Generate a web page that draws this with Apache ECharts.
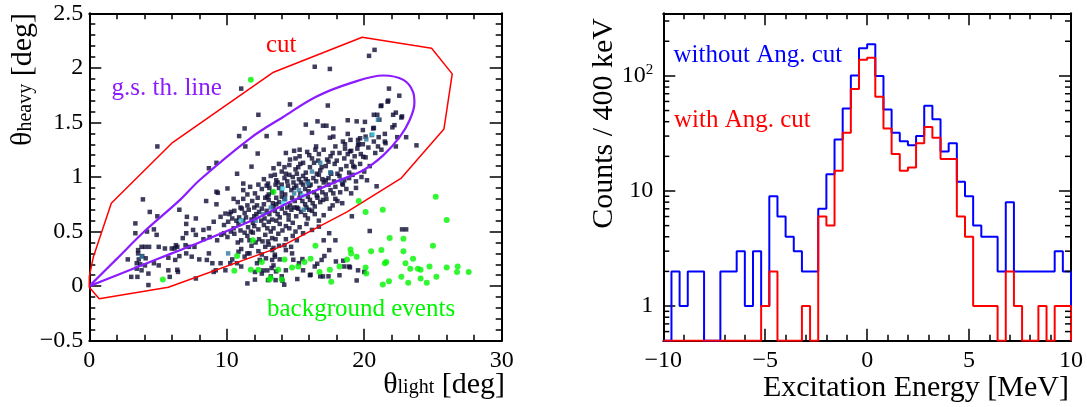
<!DOCTYPE html>
<html><head><meta charset="utf-8">
<script src="https://cdn.jsdelivr.net/npm/echarts@6/dist/echarts.min.js"></script>
<style>html,body{margin:0;padding:0;background:#fff}#c{width:1087px;height:407px}</style>
</head><body><div id="c"></div>
<script>
// ---------------- DATA ----------------
// Left panel: theta_light vs theta_heavy (deg)
const leftXTicks = [0, 10, 20, 30];
const leftYTicks = [-0.5, 0, 0.5, 1, 1.5, 2, 2.5];

// 2D-histogram cells with 1 count
const singleHits = [
[20.75,2.165],[20.35,2.11],[16.4,2.01],[17.5,1.99],[11.05,1.81],[21.8,1.81],[22.55,1.745],[21.75,1.70],[21.25,1.655],[14.6,1.665],[17.35,1.655],[12.3,1.57],[20.7,1.57],[20.95,1.57],[22.1,1.57],[22.75,1.555],[18.8,1.52],[16.6,1.51],[15.75,1.48],[17.0,1.47],[17.25,1.47],[17.75,1.445],[19.9,1.43],[20.7,1.45],[22.05,1.455],[20.1,1.37],[20.55,1.385],[21.05,1.365],[21.5,1.395],[22.4,1.365],[23.05,1.365],[23.8,1.29],[12.9,1.375],[10.9,1.375],[11.3,1.445],[16.2,1.405],[17.75,1.37],[18.8,1.395],[18.45,1.325],[19.55,1.34],[4.95,1.28],[11.35,1.28],[12.25,1.215],[22.3,1.28],[21.55,1.31],[21.0,1.28],[20.7,1.325],
[21.7,1.69],[21.2,1.65],[22.3,1.59],[22.7,1.545],[21.1,1.525],[22.2,1.475],[20.05,1.505],[20.65,1.445],[21.5,1.325],[21.25,1.25],[19.7,1.355],[19.55,1.295],[18.96,1.235],[19.93,1.185],[19.2,1.10],[19.45,1.51],[17.5,1.36],[16.5,1.28],[15.3,1.25],[13.87,1.4],[19.6,1.3],[20.3,1.27],[18.6,1.3],[19.0,1.34],[17.9,1.28],[20.8,1.22],
[8.7,1.08],[9.25,1.13],[10.75,1.03],[11.8,1.095],[10.05,0.895],[11.2,0.94],[3.9,0.795],[4.4,0.68],[4.95,0.64],[6.55,0.70],[7.1,0.635],[7.75,0.62],[8.5,0.78],[9.25,0.865],[9.35,0.855],[9.25,0.75],[8.7,0.53],[7.55,0.515],[7.05,0.57],[6.8,0.44],[7.0,0.375],[6.4,0.36],[6.2,0.345],[6.55,0.275],[6.25,0.24],[5.75,0.26],[5.5,0.345],[5.05,0.36],[4.9,0.47],[4.7,0.52],[4.2,0.50],[3.35,0.575],[3.35,0.485],[3.55,0.33],[3.8,0.36],[4.05,0.36],[4.35,0.36],[3.55,0.30],[3.85,0.275],[4.1,0.255],[3.6,0.245],[3.45,0.21],[3.7,0.20],[4.05,0.19],[4.7,0.21],[5.05,0.19],[4.3,0.115],[3.8,0.145],[3.45,0.16],[3.05,0.085],[3.5,0.085],[4.3,0.01],[2.8,0.245],[5.75,0.145],[5.85,0.085],[6.4,0.15],[6.45,0.13],[7.75,0.07],[8.0,0.245],[7.45,0.27],[7.25,0.36],[7.65,0.36],[8.55,0.24],[8.7,0.30],[8.95,0.21],[9.2,0.145],[9.55,0.21],[9.9,0.145],[10.25,0.21],[9.05,0.13],[8.3,0.43],[8.75,0.45],[9.3,0.42],[9.8,0.485],[8.3,0.515],[9.05,0.59],[9.55,0.635],[9.9,0.665],[7.75,0.47],[7.05,0.485],[6.3,0.375],[6.0,0.345],[7.05,0.30],
[11.5,0.025],[12.05,0.06],[13.0,0.055],[13.55,0.055],[14.0,0.09],[12.2,0.21],[12.4,0.24],[12.85,0.255],[13.3,0.24],[13.5,0.27],[13.4,0.19],[13.85,0.245],[12.05,0.13],[12.55,0.115],[11.65,0.30],[11.3,0.27],[10.85,0.315],[10.4,0.245],[10.75,0.21],[11.05,0.18],[14.2,0.375],[14.68,0.36],[15.1,0.42],[15.55,0.485],[16.2,0.515],[16.7,0.545],[17.45,0.485],[17.9,0.42],[17.05,0.42],[17.45,0.33],[16.9,0.24],[16.4,0.18],[16.05,0.10],[16.8,0.09],[17.4,0.09],[18.2,0.10],[18.55,0.18],[18.9,0.18],[19.55,0.145],[20.0,0.13],[19.1,0.64],[20.4,0.505],[22.75,0.52],[23.05,0.52],[14.75,0.30],[15.25,0.21],[15.55,0.145],[14.3,0.145],[12.65,0.144],[12.95,0.144],[13.26,0.166],[13.2,0.089],[13.58,0.135],[14.18,0.013],[14.05,0.05],[15.13,0.065],[16.1,0.105],[16.58,0.205],[17.0,0.089],[17.1,0.276],[17.94,0.226],[18.47,0.233],[18.96,0.172],[19.45,0.052],[14.84,0.242],[15.5,0.248],[13.5,0.288],[13.4,0.35],[20.9,0.915],
[14.3,1.22],[14.9,1.24],[15.3,1.19],[15.85,1.23],[16.2,1.17],[16.7,1.21],[17.05,1.25],[17.55,1.19],[18.2,1.22],[18.55,1.17],[19.05,1.24],[19.3,1.19],[19.75,1.21],[15.0,1.17],[16.45,1.25],[17.3,1.16],[18.8,1.21],[14.6,1.16],[19.5,1.26],[20.1,1.18],
[13.4,1.08],[14.0,1.05],[14.55,1.11],[15.0,1.07],[15.35,1.12],[15.75,1.04],[16.05,1.09],[16.35,1.13],[16.8,1.06],[17.2,1.1],[17.55,1.04],[17.85,1.12],[18.3,1.07],[18.7,1.1],[18.9,1.04],[19.3,1.09],[19.7,1.12],[13.8,1.12],[14.3,1.03],[15.55,1.13],[16.55,1.03],[17.4,1.14],[18.05,1.03],[19.1,1.14],[20.0,1.05],[20.4,1.1],
[12.7,0.98],[13.2,1.01],[13.7,0.95],[14.2,0.99],[14.55,1.02],[14.85,0.95],[15.25,0.98],[15.55,1.01],[15.9,0.96],[16.3,0.99],[16.7,1.02],[17.05,0.95],[17.4,0.99],[17.8,0.96],[18.2,1.01],[18.55,0.97],[18.9,0.99],[19.4,0.96],[19.8,1.0],[13.0,0.94],[13.5,1.02],[14.0,0.93],[15.1,1.03],[16.1,0.93],[16.95,0.98],[17.6,1.03],[18.4,0.94],[19.15,1.02],[20.2,0.97],
[11.2,0.88],[11.7,0.91],[12.05,0.85],[12.55,0.89],[12.9,0.92],[13.3,0.86],[13.8,0.9],[14.25,0.84],[14.7,0.88],[15.05,0.92],[15.35,0.85],[15.7,0.89],[16.0,0.92],[16.35,0.86],[16.75,0.9],[17.2,0.84],[17.55,0.88],[17.9,0.91],[18.25,0.86],[18.7,0.89],[19.05,0.85],[11.5,0.84],[12.3,0.93],[13.05,0.84],[13.55,0.93],[14.45,0.92],[15.55,0.93],[16.55,0.83],[17.4,0.93],[18.45,0.93],[19.4,0.9],
[10.8,0.77],[11.2,0.8],[11.5,0.74],[11.85,0.78],[12.25,0.81],[12.7,0.75],[13.05,0.79],[13.4,0.73],[13.8,0.77],[14.2,0.8],[14.6,0.74],[14.95,0.78],[15.3,0.81],[15.7,0.75],[16.05,0.79],[16.4,0.73],[16.8,0.77],[17.25,0.8],[17.7,0.74],[18.05,0.78],[11.0,0.72],[12.0,0.72],[12.95,0.82],[13.6,0.81],[14.4,0.72],[15.1,0.72],[15.9,0.82],[16.6,0.81],[17.5,0.71],[18.4,0.76],[10.5,0.8],
[10.2,0.66],[10.55,0.69],[10.9,0.63],[11.3,0.67],[11.6,0.7],[12.0,0.64],[12.35,0.68],[12.75,0.62],[13.1,0.66],[13.5,0.69],[13.85,0.63],[14.25,0.67],[14.7,0.7],[15.05,0.64],[15.4,0.68],[15.9,0.62],[16.4,0.66],[17.05,0.65],[10.4,0.62],[11.1,0.71],[11.8,0.61],[12.55,0.71],[13.3,0.61],[14.0,0.71],[14.5,0.61],[15.2,0.71],[16.0,0.7],[16.7,0.6],
[9.8,0.56],[10.1,0.59],[10.5,0.53],[10.85,0.57],[11.2,0.6],[11.55,0.54],[11.9,0.58],[12.3,0.52],[12.7,0.56],[13.05,0.59],[13.4,0.53],[13.85,0.57],[14.3,0.55],[14.8,0.58],[15.3,0.54],[15.8,0.57],[10.3,0.5],[11.0,0.51],[11.75,0.5],[12.5,0.6],[13.2,0.5],[14.05,0.51],[15.0,0.5],
[10.05,0.45],[10.55,0.48],[11.05,0.42],[11.5,0.46],[11.9,0.49],[12.35,0.43],[12.8,0.47],[13.3,0.44],[13.75,0.48],[14.3,0.43],[14.8,0.46],[10.8,0.4],[12.1,0.4],[13.0,0.41],[9.6,0.47],[11.3,0.49],
[11.05,0.34],[11.8,0.37],[12.3,0.32],[12.8,0.36],[13.3,0.33],[13.8,0.37],[14.3,0.33],[11.5,0.3],[12.55,0.29],[13.05,0.38],
[13.6,0.97],[14.4,0.96],[15.4,0.95],[16.5,0.96],[17.2,0.97],[14.8,1.0],[15.75,0.98],[16.9,1.09],[15.2,1.09],[14.2,1.09],[13.1,0.9],[14.0,0.86],[14.9,0.9],[15.95,0.87],[16.95,0.86],[17.75,0.85],[12.8,0.81],[13.35,0.76],[14.0,0.82],[14.75,0.81],[15.5,0.78],[16.25,0.76],[17.0,0.79],[17.9,0.8],[12.2,0.74],[13.6,0.75],[14.9,0.72],[15.8,0.72],[16.2,0.69],[15.7,0.65],[14.5,0.65],[13.7,0.66],[12.9,0.69],[12.15,0.66],[11.4,0.63],[12.0,0.55],[12.95,0.53],[13.6,0.6],[14.55,0.53],[11.65,0.42],[12.6,0.41],[13.55,0.43],[10.3,0.68],[10.7,0.6],[16.0,1.2],[17.7,1.22],[18.0,1.15],[16.65,1.15],[18.6,1.26],[19.9,1.3]
];
// cells with 2 counts
const doubleHits = [[21.0,1.525],[20.15,1.345],[15.25,0.88],[14.25,0.795],[14.9,0.85],[12.65,0.66],[12.1,0.6],[16.2,1.05],[17.55,1.04],[15.9,0.94],[16.8,1.13],[13.2,0.72],[3.8,0.27],[10.1,0.3],[18.3,0.97],[15.6,0.7]];
// cells with 3 counts
const tripleHits = [[20.6,1.39],[14.05,0.895],[15.5,0.83],[11.05,0.6],[14.1,0.76]];
// background events (outside the cut)
const backgroundEvents = [[11.75,1.89],[13.4,0.865],[11.9,0.42],[10.75,0.275],[10.55,0.14],[5.35,0.06],[19.6,0.78],[20.1,0.68],[21.35,0.70],[25.2,0.82],[26.0,0.605],[21.85,0.44],[22.85,0.435],[25.0,0.37],[16.45,0.37],[19.0,0.335],[19.05,0.30],[19.45,0.27],[20.5,0.32],[21.25,0.33],[22.85,0.32],[23.55,0.25],[21.6,0.22],[21.5,0.21],[23.0,0.21],[23.35,0.16],[23.9,0.16],[24.1,0.15],[24.75,0.18],[26.0,0.17],[26.8,0.18],[26.75,0.13],[27.6,0.13],[25.25,0.085],[24.55,0.03],[24.1,0.07],[23.2,0.03],[22.7,0.085],[21.8,0.045],[21.35,0.015],[20.1,0.17],[20.15,0.115],[18.75,0.245],[18.2,0.18],[17.6,0.04],[17.5,0.15],[16.75,0.13],[16.1,0.25],[15.65,0.22],[15.2,0.18],[14.75,0.17],[14.2,0.245],[13.75,0.15],[13.1,0.06],[13.2,0.075],[14.0,0.06],[12.55,0.22],[12.3,0.15],[11.75,0.15]];
// graphical cut polygon
const cutPolygon = [[0,0.09],[0.3,0.27],[1.6,0.76],[6.0,1.31],[13.4,1.96],[19.85,2.28],[24.9,2.18],[26.4,1.945],[25.8,1.44],[22.7,0.99],[18.75,0.68],[13.9,0.36],[5.75,-0.01],[0.72,-0.115],[0,-0.01],[0,0.09]];
// ground-state theoretical kinematic line
const gsLine = [[0,0],[2,0.1],[4,0.2],[6,0.3],[8,0.4],[10,0.505],[12,0.61],[14,0.735],[16,0.85],[18,0.96],[19.9,1.06],[21.4,1.2],[22.6,1.37],[23.3,1.52],[23.65,1.675],[23.55,1.78],[22.85,1.89],[21.4,1.93],[19,1.86],[16.5,1.735],[14.1,1.55],[11.7,1.355],[8.05,0.975],[6.6,0.79],[4,0.5],[2,0.25],[0,0]];

// Right panel: excitation energy histograms, 400 keV bins from -10 MeV
const binLow = -10, binWidth = 0.4;
const countsWithout = [0,2,1,2,2,0,0,2,2,3,1,3,1,9,6,4,3,2,2,7,14,28,52,101,174,188,100,51,32,27,25,30,55,42,22,26,12,9,5,4,4,2,8,2,2,2,2,2,3,2];
const countsWith    = [0,0,0,0,0,0,0,0,0,0,0,0,1,2,0,0,0,1,0,6,5,15,32,77,138,144,66,35,21,15,16,26,36,29,19,19,6,4,1,1,1,0,2,1,0,0,1,0,1,1];
const rightXTicks = [-10, -5, 0, 5, 10];
const logMin = 0.5, logMax = 350;
const logMinorTicks = [0.6,0.7,0.8,0.9,2,3,4,5,6,7,8,9,20,30,40,50,60,70,80,90,200,300];

// ---------------- CHART ----------------
const FONT = "'Liberation Serif','DejaVu Serif',serif";
const minus = v => String(v).replace('-', '\u2212');
function stepData(counts){
  const r = v => Math.round(v*1000)/1000;
  const d = [[binLow, logMin]];
  counts.forEach((c,i) => d.push([r(binLow + i*binWidth), Math.max(c, logMin)]));
  const end = r(binLow + counts.length*binWidth);
  d.push([end, Math.max(counts[counts.length-1], logMin)]);
  d.push([end, logMin]);
  return d;
}
const axLine = {show:true, onZero:false, lineStyle:{color:'#000', width:2}};
const tick = {show:true, inside:true, length:12, lineStyle:{color:'#000', width:1.5}};
const minor = {show:true, splitNumber:5, length:6, lineStyle:{color:'#000', width:1.5}};
const lab = {color:'#000', fontFamily:FONT, fontSize:24};

const chart = echarts.init(document.getElementById('c'), null, {renderer:'canvas'});
chart.setOption({
  animation:false,
  backgroundColor:'#fff',
  grid:[
    {left:89.3, top:13.3, width:412.4, height:327.4},
    {left:663.3, top:13.3, width:407.7, height:327.4}
  ],
  xAxis:[
    {gridIndex:0, type:'value', position:'bottom', min:leftXTicks[0], max:leftXTicks[leftXTicks.length-1], interval:10,
      axisLine:axLine, axisTick:tick, minorTick:minor, splitLine:{show:false},
      axisLabel:Object.assign({margin:8, formatter:minus}, lab)},
    {gridIndex:0, type:'value', position:'top', min:0, max:30, interval:10,
      axisLine:axLine, axisTick:tick, minorTick:minor, splitLine:{show:false}, axisLabel:{show:false}},
    {gridIndex:1, type:'value', position:'bottom', min:rightXTicks[0], max:rightXTicks[rightXTicks.length-1], interval:5,
      axisLine:axLine, axisTick:tick, minorTick:minor, splitLine:{show:false},
      axisLabel:Object.assign({margin:8, formatter:minus}, lab)},
    {gridIndex:1, type:'value', position:'top', min:-10, max:10, interval:5,
      axisLine:axLine, axisTick:tick, minorTick:minor, splitLine:{show:false}, axisLabel:{show:false}}
  ],
  yAxis:[
    {gridIndex:0, type:'value', position:'left', min:leftYTicks[0], max:leftYTicks[leftYTicks.length-1], interval:0.5,
      axisLine:axLine, axisTick:tick, minorTick:minor, splitLine:{show:false},
      axisLabel:Object.assign({margin:6, formatter:minus}, lab)},
    {gridIndex:0, type:'value', position:'right', min:-0.5, max:2.5, interval:0.5,
      axisLine:axLine, axisTick:tick, minorTick:minor, splitLine:{show:false}, axisLabel:{show:false}},
    {gridIndex:1, type:'log', logBase:10, position:'left', min:logMin, max:logMax,
      axisLine:axLine, axisTick:tick, minorTick:{show:false}, splitLine:{show:false},
      axisLabel:Object.assign({margin:10, showMinLabel:false, showMaxLabel:false,
        formatter:function(v){
          const e = Math.log10(v);
          if (Math.abs(e - Math.round(e)) > 1e-6) return '';
          if (Math.round(e) === 2) return '{b|10}{p|2}';
          return String(Math.round(v));
        },
        rich:{b:{fontFamily:FONT, fontSize:24, color:'#000'}, p:{fontFamily:FONT, fontSize:15, color:'#000', padding:[0,0,12,0]}}
      }, lab)},
    {gridIndex:1, type:'log', logBase:10, position:'right', min:logMin, max:logMax,
      axisLine:axLine, axisTick:tick, minorTick:{show:false}, splitLine:{show:false}, axisLabel:{show:false}}
  ],
  series:[
    {type:'scatter', xAxisIndex:0, yAxisIndex:0, data:singleHits, symbol:'rect', symbolSize:4.5,
      itemStyle:{color:'#0e0c35'}, silent:true, z:2},
    {type:'scatter', xAxisIndex:0, yAxisIndex:0, data:doubleHits, symbol:'rect', symbolSize:4.5,
      itemStyle:{color:'#2a7aa0'}, silent:true, z:2},
    {type:'scatter', xAxisIndex:0, yAxisIndex:0, data:tripleHits, symbol:'rect', symbolSize:4.5,
      itemStyle:{color:'#3fd6ee'}, silent:true, z:2},
    {type:'line', xAxisIndex:0, yAxisIndex:0, data:gsLine, smooth:0.35, showSymbol:false,
      lineStyle:{color:'#8a1cff', width:2.2}, silent:true, z:3},
    {type:'line', xAxisIndex:0, yAxisIndex:0, data:cutPolygon, smooth:false, showSymbol:false,
      lineStyle:{color:'#ff0000', width:1.5}, silent:true, z:3},
    {type:'scatter', xAxisIndex:0, yAxisIndex:0, data:backgroundEvents, symbol:'circle', symbolSize:6,
      itemStyle:{color:'#00f500'}, silent:true, z:4},
    {type:'line', xAxisIndex:2, yAxisIndex:2, data:stepData(countsWithout), step:'end', showSymbol:false,
      lineStyle:{color:'#0000ff', width:2}, silent:true, z:3},
    {type:'line', xAxisIndex:2, yAxisIndex:2, data:stepData(countsWith), step:'end', showSymbol:false,
      lineStyle:{color:'#ff0000', width:2}, silent:true, z:4},
    {type:'custom', xAxisIndex:2, yAxisIndex:2, silent:true, z:5,
      data:logMinorTicks.map(v => [rightXTicks[0], v]),
      renderItem:function(params, api){
        const v = api.value(1);
        const L = api.coord([rightXTicks[0], v]);
        const R = api.coord([rightXTicks[rightXTicks.length-1], v]);
        const st = {stroke:'#000', lineWidth:1.5};
        return {type:'group', children:[
          {type:'line', shape:{x1:L[0], y1:L[1], x2:L[0]+6, y2:L[1]}, style:st},
          {type:'line', shape:{x1:R[0]-6, y1:R[1], x2:R[0], y2:R[1]}, style:st}
        ]};
      }}
  ],
  graphic:[
    {type:'text', x:266, y:45.8, style:{text:'cut', fill:'#ff0000', font:'25px '+FONT, verticalAlign:'middle'}},
    {type:'text', x:111.5, y:88, style:{text:'g.s. th. line', fill:'#8a1cff', font:'25px '+FONT, verticalAlign:'middle'}},
    {type:'text', x:267, y:309.5, style:{text:'background events', fill:'#00f500', font:'25px '+FONT, verticalAlign:'middle'}},
    {type:'text', x:673.5, y:55.8, style:{text:'without Ang. cut', fill:'#0000ff', font:'25px '+FONT, verticalAlign:'middle'}},
    {type:'text', x:674, y:120.5, style:{text:'with Ang. cut', fill:'#ff0000', font:'25px '+FONT, verticalAlign:'middle'}},
    {type:'text', x:505, y:406, style:{text:'{t|θ}{s|light}{t| [deg]}', align:'right', verticalAlign:'bottom',
      rich:{t:{fontFamily:FONT, fontSize:30, fill:'#000', padding:[0,0,6,0]}, s:{fontFamily:FONT, fontSize:20, fill:'#000'}}}},
    {type:'text', x:1069, y:388, style:{text:'Excitation Energy [MeV]', fill:'#000', font:'30px '+FONT, align:'right', verticalAlign:'middle'}},
    {type:'text', x:44, y:13, rotation:Math.PI/2, style:{text:'{t|θ}{s|heavy}{t| [deg]}', align:'right', verticalAlign:'bottom',
      rich:{t:{fontFamily:FONT, fontSize:30, fill:'#000', padding:[0,0,6,0]}, s:{fontFamily:FONT, fontSize:20, fill:'#000'}}}},
    {type:'text', x:604, y:18, rotation:Math.PI/2, style:{text:'Counts / 400 keV', fill:'#000', font:'30px '+FONT, align:'right', verticalAlign:'middle'}}
  ]
});
</script></body></html>
